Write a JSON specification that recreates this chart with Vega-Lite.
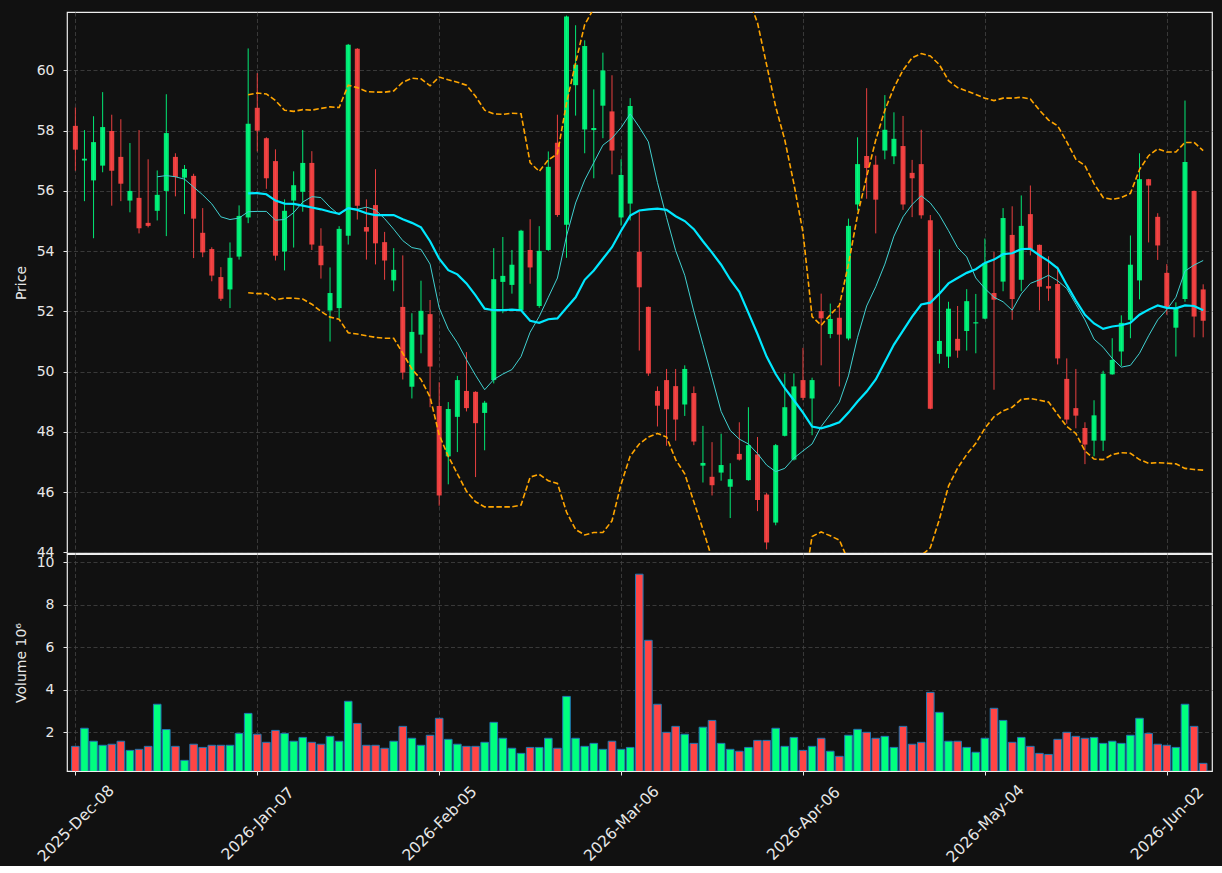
{
"$schema": "https://vega.github.io/schema/vega-lite/v6.json",
"background": "#111111",
"padding": {"left": 13, "top": 11, "right": 10, "bottom": 0},
"spacing": 1,
"bounds": "flush",
"config": {
  "view": {"stroke": "#eeeeee", "strokeWidth": 1.2, "fill": "#111111"},
  "axis": {"labelFont": "DejaVu Sans", "labelFontSize": 14, "labelColor": "#e8e8e8", "titleFont": "DejaVu Sans", "titleFontSize": 14, "titleColor": "#e8e8e8", "titleFontWeight": "normal", "titlePadding": 8, "domain": false, "tickColor": "#e8e8e8", "tickSize": 4, "labelPadding": 9, "gridColor": "#444444", "gridDash": [4, 2.5], "gridWidth": 0.8}
},
"datasets": {"d": [
{"i":0,"o":58.16,"h":58.77,"l":56.67,"c":57.37,"v":1.34},
{"i":1,"o":57.01,"h":58.02,"l":55.66,"c":57.07,"v":2.19},
{"i":2,"o":56.35,"h":58.48,"l":54.43,"c":57.62,"v":1.58},
{"i":3,"o":56.84,"h":59.28,"l":56.62,"c":58.12,"v":1.39},
{"i":4,"o":57.99,"h":58.53,"l":55.51,"c":56.67,"v":1.44},
{"i":5,"o":57.13,"h":58.38,"l":55.66,"c":56.24,"v":1.58},
{"i":6,"o":55.68,"h":57.59,"l":55.29,"c":56.00,"v":1.15},
{"i":7,"o":55.77,"h":58.02,"l":54.59,"c":54.76,"v":1.20},
{"i":8,"o":54.94,"h":57.05,"l":54.79,"c":54.84,"v":1.34},
{"i":9,"o":55.34,"h":56.68,"l":55.02,"c":55.87,"v":3.32,"m10":56.47},
{"i":10,"o":56.00,"h":59.21,"l":54.50,"c":57.92,"v":2.13,"m10":56.51},
{"i":11,"o":57.13,"h":57.25,"l":55.82,"c":56.46,"v":1.34,"m10":56.47},
{"i":12,"o":56.44,"h":56.86,"l":55.23,"c":56.73,"v":0.68,"m10":56.39},
{"i":13,"o":56.50,"h":56.57,"l":53.77,"c":55.08,"v":1.44,"m10":56.13},
{"i":14,"o":54.61,"h":55.43,"l":53.80,"c":53.96,"v":1.29,"m10":55.87},
{"i":15,"o":54.07,"h":54.13,"l":53.00,"c":53.19,"v":1.39,"m10":55.57},
{"i":16,"o":53.14,"h":53.47,"l":52.35,"c":52.42,"v":1.39,"m10":55.14},
{"i":17,"o":52.73,"h":54.29,"l":52.11,"c":53.78,"v":1.39,"m10":55.05},
{"i":18,"o":53.82,"h":55.52,"l":53.72,"c":55.17,"v":1.95,"m10":55.10},
{"i":19,"o":55.12,"h":60.73,"l":54.93,"c":58.23,"v":2.89,"m10":55.31,"m20":55.92,"bu":59.19,"bl":52.62},
{"i":20,"o":58.76,"h":59.91,"l":57.31,"c":58.00,"v":1.91,"m10":55.32,"m20":55.93,"bu":59.25,"bl":52.59},
{"i":21,"o":57.75,"h":57.78,"l":56.07,"c":56.42,"v":1.53,"m10":55.32,"m20":55.89,"bu":59.22,"bl":52.59},
{"i":22,"o":56.99,"h":57.38,"l":53.69,"c":53.85,"v":2.09,"m10":55.03,"m20":55.68,"bu":59.00,"bl":52.39},
{"i":23,"o":53.99,"h":55.72,"l":53.36,"c":55.34,"v":1.95,"m10":55.05,"m20":55.58,"bu":58.68,"bl":52.44},
{"i":24,"o":55.68,"h":56.65,"l":54.12,"c":56.19,"v":1.58,"m10":55.28,"m20":55.57,"bu":58.64,"bl":52.44},
{"i":25,"o":55.97,"h":58.02,"l":55.31,"c":56.93,"v":1.76,"m10":55.63,"m20":55.51,"bu":58.70,"bl":52.41},
{"i":26,"o":56.93,"h":57.32,"l":54.04,"c":54.22,"v":1.53,"m10":55.81,"m20":55.45,"bu":58.68,"bl":52.24},
{"i":27,"o":54.18,"h":54.76,"l":53.09,"c":53.53,"v":1.44,"m10":55.78,"m20":55.39,"bu":58.74,"bl":52.00},
{"i":28,"o":52.03,"h":53.46,"l":51.00,"c":52.61,"v":1.81,"m10":55.46,"m20":55.31,"bu":58.79,"bl":51.81},
{"i":29,"o":52.11,"h":54.83,"l":51.77,"c":54.74,"v":1.58,"m10":55.21,"m20":55.24,"bu":58.77,"bl":51.74},
{"i":30,"o":54.51,"h":60.88,"l":54.22,"c":60.85,"v":3.46,"m10":55.43,"m20":55.43,"bu":59.51,"bl":51.29},
{"i":31,"o":60.72,"h":60.74,"l":55.05,"c":55.51,"v":2.42,"m10":55.39,"m20":55.37,"bu":59.43,"bl":51.25},
{"i":32,"o":54.80,"h":55.72,"l":53.72,"c":54.65,"v":1.39,"m10":55.46,"m20":55.26,"bu":59.30,"bl":51.19},
{"i":33,"o":55.53,"h":56.72,"l":53.56,"c":54.26,"v":1.39,"m10":55.37,"m20":55.20,"bu":59.28,"bl":51.14},
{"i":34,"o":54.30,"h":54.64,"l":53.05,"c":53.69,"v":1.25,"m10":55.08,"m20":55.20,"bu":59.28,"bl":51.11},
{"i":35,"o":53.03,"h":54.10,"l":52.67,"c":53.38,"v":1.58,"m10":54.73,"m20":55.20,"bu":59.32,"bl":51.11},
{"i":36,"o":52.15,"h":53.86,"l":49.74,"c":49.97,"v":2.28,"m10":54.35,"m20":55.06,"bu":59.61,"bl":50.61},
{"i":37,"o":49.50,"h":51.94,"l":49.11,"c":51.32,"v":1.72,"m10":54.12,"m20":54.94,"bu":59.74,"bl":50.09},
{"i":38,"o":51.23,"h":53.02,"l":50.61,"c":52.02,"v":1.39,"m10":54.06,"m20":54.79,"bu":59.72,"bl":49.74},
{"i":39,"o":51.91,"h":52.38,"l":48.82,"c":50.17,"v":1.86,"m10":53.57,"m20":54.33,"bu":59.49,"bl":49.16},
{"i":40,"o":48.86,"h":49.65,"l":45.55,"c":45.89,"v":2.66,"m10":52.12,"m20":53.75,"bu":59.78,"bl":47.90},
{"i":41,"o":47.19,"h":48.99,"l":46.26,"c":48.76,"v":1.67,"m10":51.41,"m20":53.37,"bu":59.69,"bl":47.19},
{"i":42,"o":48.50,"h":49.86,"l":47.33,"c":49.72,"v":1.44,"m10":50.96,"m20":53.23,"bu":59.61,"bl":46.61},
{"i":43,"o":49.36,"h":50.65,"l":48.68,"c":48.79,"v":1.34,"m10":50.40,"m20":52.93,"bu":59.51,"bl":46.03},
{"i":44,"o":49.33,"h":49.35,"l":46.50,"c":48.29,"v":1.34,"m10":49.88,"m20":52.53,"bu":59.14,"bl":45.68},
{"i":45,"o":48.63,"h":49.03,"l":47.39,"c":48.97,"v":1.53,"m10":49.40,"m20":52.09,"bu":58.68,"bl":45.51},
{"i":46,"o":49.72,"h":54.10,"l":49.61,"c":53.07,"v":2.47,"m10":49.74,"m20":52.04,"bu":58.56,"bl":45.51},
{"i":47,"o":52.98,"h":54.47,"l":51.94,"c":53.18,"v":1.72,"m10":49.92,"m20":52.04,"bu":58.54,"bl":45.51},
{"i":48,"o":52.88,"h":54.04,"l":52.59,"c":53.55,"v":1.25,"m10":50.07,"m20":52.06,"bu":58.58,"bl":45.51},
{"i":49,"o":52.03,"h":54.71,"l":52.00,"c":54.68,"v":1.01,"m10":50.50,"m20":52.04,"bu":58.56,"bl":45.57},
{"i":50,"o":54.04,"h":55.06,"l":52.92,"c":53.46,"v":1.29,"m10":51.31,"m20":51.69,"bu":56.94,"bl":46.50},
{"i":51,"o":52.18,"h":54.83,"l":52.12,"c":54.01,"v":1.29,"m10":51.83,"m20":51.62,"bu":56.65,"bl":46.59},
{"i":52,"o":54.04,"h":57.31,"l":54.01,"c":56.80,"v":1.72,"m10":52.47,"m20":51.74,"bu":57.03,"bl":46.38},
{"i":53,"o":57.60,"h":58.53,"l":55.14,"c":55.20,"v":1.25,"m10":53.11,"m20":51.77,"bu":57.23,"bl":46.29},
{"i":54,"o":54.88,"h":61.82,"l":53.78,"c":61.79,"v":3.69,"m10":54.50,"m20":52.12,"bu":58.91,"bl":45.34},
{"i":55,"o":59.51,"h":61.50,"l":58.50,"c":60.19,"v":1.72,"m10":55.60,"m20":52.47,"bu":60.25,"bl":44.76},
{"i":56,"o":58.04,"h":61.00,"l":57.25,"c":60.81,"v":1.34,"m10":56.36,"m20":53.05,"bu":61.52,"bl":44.58},
{"i":57,"o":58.02,"h":59.37,"l":56.42,"c":58.09,"v":1.48,"m10":56.94,"m20":53.36,"bu":62.06,"bl":44.66},
{"i":58,"o":58.83,"h":60.59,"l":57.75,"c":60.00,"v":1.20,"m10":57.52,"m20":53.75,"bu":62.84,"bl":44.66},
{"i":59,"o":58.64,"h":59.84,"l":56.55,"c":57.34,"v":1.58,"m10":57.75,"m20":54.13,"bu":63.21,"bl":45.05},
{"i":60,"o":55.12,"h":57.05,"l":54.85,"c":56.53,"v":1.20,"m10":58.10,"m20":54.68,"bu":63.10,"bl":46.26},
{"i":61,"o":55.58,"h":59.08,"l":55.02,"c":58.82,"v":1.29,"m10":58.56,"m20":55.18,"bu":63.16,"bl":47.20},
{"i":62,"o":53.98,"h":55.31,"l":50.70,"c":52.80,"v":9.44,"m10":58.12,"m20":55.35,"bu":63.10,"bl":47.60},
{"i":63,"o":52.15,"h":52.16,"l":49.86,"c":49.94,"v":6.33,"m10":57.63,"m20":55.39,"bu":62.95,"bl":47.83},
{"i":64,"o":49.36,"h":49.51,"l":48.18,"c":48.87,"v":3.32,"m10":56.28,"m20":55.41,"bu":62.87,"bl":47.95},
{"i":65,"o":49.72,"h":50.09,"l":47.54,"c":48.75,"v":2.00,"m10":55.12,"m20":55.37,"bu":62.91,"bl":47.83},
{"i":66,"o":49.52,"h":50.09,"l":47.71,"c":48.41,"v":2.28,"m10":54.02,"m20":55.16,"bu":63.24,"bl":47.08},
{"i":67,"o":48.91,"h":50.21,"l":48.53,"c":50.09,"v":1.91,"m10":53.20,"m20":55.00,"bu":63.39,"bl":46.61},
{"i":68,"o":49.29,"h":49.51,"l":47.56,"c":47.68,"v":1.48,"m10":52.00,"m20":54.73,"bu":63.78,"bl":45.68},
{"i":69,"o":46.88,"h":48.20,"l":46.32,"c":46.97,"v":2.24,"m10":50.90,"m20":54.33,"bu":63.90,"bl":44.76},
{"i":70,"o":46.51,"h":47.66,"l":45.89,"c":46.23,"v":2.56,"m10":49.80,"m20":53.95,"bu":64.04,"bl":43.80},
{"i":71,"o":46.65,"h":47.94,"l":46.38,"c":46.90,"v":1.48,"m10":48.68,"m20":53.55,"bu":64.12,"bl":42.90},
{"i":72,"o":46.18,"h":46.96,"l":45.14,"c":46.43,"v":1.20,"m10":48.05,"m20":53.06,"bu":64.10,"bl":42.00},
{"i":73,"o":47.27,"h":48.32,"l":47.05,"c":47.08,"v":1.11,"m10":47.76,"m20":52.65,"bu":63.88,"bl":41.40},
{"i":74,"o":46.40,"h":48.82,"l":46.38,"c":47.56,"v":1.29,"m10":47.60,"m20":51.95,"bu":62.40,"bl":41.50},
{"i":75,"o":47.25,"h":47.83,"l":45.37,"c":45.74,"v":1.62,"m10":47.28,"m20":51.25,"bu":61.58,"bl":40.92},
{"i":76,"o":45.92,"h":45.97,"l":44.10,"c":44.33,"v":1.62,"m10":46.90,"m20":50.50,"bu":60.19,"bl":40.81},
{"i":77,"o":44.99,"h":47.60,"l":44.90,"c":47.56,"v":2.19,"m10":46.68,"m20":49.92,"bu":58.79,"bl":41.05},
{"i":78,"o":47.87,"h":49.94,"l":47.85,"c":48.82,"v":1.34,"m10":46.79,"m20":49.45,"bu":57.69,"bl":41.21},
{"i":79,"o":47.08,"h":49.94,"l":47.05,"c":49.51,"v":1.76,"m10":47.13,"m20":49.05,"bu":56.24,"bl":41.86},
{"i":80,"o":49.72,"h":50.79,"l":49.05,"c":49.13,"v":1.15,"m10":47.37,"m20":48.64,"bu":54.62,"bl":42.66},
{"i":81,"o":49.11,"h":49.80,"l":47.89,"c":49.72,"v":1.34,"m10":47.60,"m20":48.18,"bu":51.83,"bl":44.53},
{"i":82,"o":52.01,"h":52.59,"l":50.21,"c":51.77,"v":1.72,"m10":48.18,"m20":48.12,"bu":51.54,"bl":44.68},
{"i":83,"o":51.25,"h":52.26,"l":51.11,"c":51.75,"v":1.11,"m10":48.58,"m20":48.21,"bu":51.89,"bl":44.55},
{"i":84,"o":51.79,"h":52.18,"l":49.51,"c":51.23,"v":0.87,"m10":48.99,"m20":48.32,"bu":52.20,"bl":44.41},
{"i":85,"o":51.10,"h":55.08,"l":51.04,"c":54.84,"v":1.86,"m10":49.86,"m20":48.64,"bu":53.57,"bl":43.71},
{"i":86,"o":55.55,"h":57.78,"l":55.35,"c":56.89,"v":2.14,"m10":51.14,"m20":49.01,"bu":55.20,"bl":42.82},
{"i":87,"o":57.16,"h":59.41,"l":55.74,"c":56.76,"v":2.00,"m10":52.18,"m20":49.34,"bu":56.47,"bl":42.21},
{"i":88,"o":56.87,"h":57.17,"l":54.59,"c":55.71,"v":1.72,"m10":52.82,"m20":49.74,"bu":57.69,"bl":41.79},
{"i":89,"o":57.34,"h":59.18,"l":57.05,"c":58.03,"v":1.81,"m10":53.57,"m20":50.32,"bu":58.68,"bl":41.96},
{"i":90,"o":57.15,"h":58.61,"l":56.89,"c":57.73,"v":1.29,"m10":54.50,"m20":50.90,"bu":59.43,"bl":42.37},
{"i":91,"o":57.49,"h":58.49,"l":55.37,"c":55.55,"v":2.28,"m10":55.14,"m20":51.36,"bu":60.01,"bl":42.71},
{"i":92,"o":56.60,"h":57.03,"l":55.13,"c":56.42,"v":1.44,"m10":55.55,"m20":51.83,"bu":60.42,"bl":43.24},
{"i":93,"o":56.89,"h":58.03,"l":55.08,"c":55.19,"v":1.53,"m10":55.84,"m20":52.23,"bu":60.56,"bl":43.90},
{"i":94,"o":55.03,"h":55.20,"l":48.75,"c":48.77,"v":3.88,"m10":55.60,"m20":52.29,"bu":60.48,"bl":44.15},
{"i":95,"o":50.59,"h":54.06,"l":50.27,"c":51.02,"v":2.94,"m10":55.20,"m20":52.59,"bu":60.19,"bl":45.10},
{"i":96,"o":50.50,"h":52.32,"l":50.12,"c":52.09,"v":1.58,"m10":54.68,"m20":52.93,"bu":59.66,"bl":46.20},
{"i":97,"o":51.09,"h":52.18,"l":50.46,"c":50.70,"v":1.58,"m10":54.12,"m20":53.11,"bu":59.43,"bl":46.80},
{"i":98,"o":51.35,"h":52.74,"l":50.70,"c":52.34,"v":1.29,"m10":53.81,"m20":53.28,"bu":59.32,"bl":47.25},
{"i":99,"o":51.60,"h":52.58,"l":50.61,"c":51.64,"v":1.06,"m10":53.11,"m20":53.40,"bu":59.20,"bl":47.62},
{"i":100,"o":51.76,"h":54.42,"l":51.74,"c":53.61,"v":1.72,"m10":52.76,"m20":53.61,"bu":59.08,"bl":48.12},
{"i":101,"o":52.61,"h":53.98,"l":49.40,"c":52.39,"v":3.13,"m10":52.47,"m20":53.72,"bu":59.00,"bl":48.50},
{"i":102,"o":52.99,"h":55.43,"l":52.67,"c":55.10,"v":2.56,"m10":52.32,"m20":53.90,"bu":59.08,"bl":48.70},
{"i":103,"o":54.54,"h":55.49,"l":51.72,"c":52.41,"v":1.53,"m10":52.04,"m20":53.93,"bu":59.08,"bl":48.82},
{"i":104,"o":53.05,"h":55.85,"l":52.67,"c":54.84,"v":1.76,"m10":52.58,"m20":54.07,"bu":59.11,"bl":49.08},
{"i":105,"o":55.23,"h":56.18,"l":53.86,"c":54.06,"v":1.34,"m10":52.93,"m20":54.08,"bu":59.05,"bl":49.11},
{"i":106,"o":54.21,"h":54.22,"l":52.03,"c":52.82,"v":1.01,"m10":53.05,"m20":53.86,"bu":58.68,"bl":49.05},
{"i":107,"o":52.84,"h":53.83,"l":52.35,"c":52.76,"v":0.96,"m10":53.20,"m20":53.67,"bu":58.35,"bl":48.99},
{"i":108,"o":52.91,"h":53.49,"l":50.24,"c":50.44,"v":1.67,"m10":53.02,"m20":53.43,"bu":58.16,"bl":48.58},
{"i":109,"o":49.76,"h":50.44,"l":48.27,"c":48.41,"v":2.00,"m10":52.76,"m20":52.88,"bu":57.63,"bl":48.18},
{"i":110,"o":48.79,"h":50.09,"l":48.12,"c":48.54,"v":1.81,"m10":52.24,"m20":52.36,"bu":57.05,"bl":47.95},
{"i":111,"o":48.13,"h":48.32,"l":46.93,"c":47.58,"v":1.72,"m10":51.72,"m20":51.89,"bu":56.84,"bl":47.37},
{"i":112,"o":47.71,"h":49.05,"l":47.19,"c":48.55,"v":1.76,"m10":51.08,"m20":51.60,"bu":56.24,"bl":47.10},
{"i":113,"o":47.71,"h":50.03,"l":47.37,"c":49.93,"v":1.48,"m10":50.81,"m20":51.42,"bu":55.78,"bl":47.08},
{"i":114,"o":49.91,"h":51.11,"l":49.90,"c":50.39,"v":1.58,"m10":50.44,"m20":51.50,"bu":55.72,"bl":47.25},
{"i":115,"o":50.67,"h":51.87,"l":50.19,"c":51.62,"v":1.48,"m10":50.15,"m20":51.54,"bu":55.78,"bl":47.31},
{"i":116,"o":51.72,"h":54.52,"l":51.11,"c":53.55,"v":1.86,"m10":50.21,"m20":51.62,"bu":55.92,"bl":47.29},
{"i":117,"o":53.03,"h":57.25,"l":52.40,"c":56.39,"v":2.66,"m10":50.61,"m20":51.89,"bu":56.71,"bl":47.08},
{"i":118,"o":56.39,"h":56.40,"l":54.29,"c":56.18,"v":1.95,"m10":51.19,"m20":52.06,"bu":57.17,"bl":46.96},
{"i":119,"o":55.14,"h":55.26,"l":53.71,"c":54.19,"v":1.44,"m10":51.72,"m20":52.20,"bu":57.40,"bl":46.98},
{"i":120,"o":53.28,"h":53.57,"l":51.89,"c":52.12,"v":1.39,"m10":52.06,"m20":52.12,"bu":57.29,"bl":46.96},
{"i":121,"o":51.46,"h":52.30,"l":50.50,"c":52.12,"v":1.29,"m10":52.47,"m20":52.10,"bu":57.29,"bl":46.94},
{"i":122,"o":52.41,"h":59.00,"l":52.32,"c":56.96,"v":3.32,"m10":53.34,"m20":52.20,"bu":57.61,"bl":46.79},
{"i":123,"o":56.00,"h":56.01,"l":51.14,"c":51.83,"v":2.28,"m10":53.54,"m20":52.18,"bu":57.61,"bl":46.75},
{"i":124,"o":52.73,"h":52.90,"l":51.14,"c":51.69,"v":0.54,"m10":53.69,"m20":52.04,"bu":57.34,"bl":46.73}
]},
"vconcat": [
 {
  "width": 1145, "height": 541,
  "data": {"name": "d"},
  "encoding": {
    "x": {"field": "i", "type": "quantitative", "scale": {"domain": [-0.37, 124.42], "nice": false, "zero": false},
          "axis": {"values": [0,20,40,60,80,100,120], "labels": false, "ticks": false, "grid": true, "title": null}}
  },
  "layer": [
    {"mark": {"type": "rule", "strokeWidth": 1, "opacity": 0.9, "clip": true},
     "encoding": {
       "y": {"field": "l", "type": "quantitative", "scale": {"domain": [43.98, 61.94], "nice": false, "zero": false},
             "axis": {"title": "Price", "values": [44,46,48,50,52,54,56,58,60], "grid": true}},
       "y2": {"field": "h"},
       "color": {"condition": {"test": "datum.c >= datum.o", "value": "#00ff7f"}, "value": "#ff4545"}
     }},
    {"mark": {"type": "bar", "size": 5, "opacity": 0.9, "clip": true},
     "encoding": {
       "y": {"field": "o", "type": "quantitative"},
       "y2": {"field": "c"},
       "color": {"condition": {"test": "datum.c >= datum.o", "value": "#00ff7f"}, "value": "#ff4545"}
     }},
    {"mark": {"type": "line", "color": "#40d0d0", "strokeWidth": 1, "clip": true},
     "encoding": {"y": {"field": "m10", "type": "quantitative"}}},
    {"mark": {"type": "line", "color": "#00e8ff", "strokeWidth": 2.2, "clip": true},
     "encoding": {"y": {"field": "m20", "type": "quantitative"}}},
    {"mark": {"type": "line", "color": "#ffa500", "strokeWidth": 1.6, "strokeDash": [5.5, 2.5], "clip": true},
     "encoding": {"y": {"field": "bu", "type": "quantitative"}}},
    {"mark": {"type": "line", "color": "#ffa500", "strokeWidth": 1.6, "strokeDash": [5.5, 2.5], "clip": true},
     "encoding": {"y": {"field": "bl", "type": "quantitative"}}}
  ]
 },
 {
  "width": 1145, "height": 217,
  "data": {"name": "d"},
  "mark": {"type": "bar", "size": 7.6, "stroke": "#1f77b4", "strokeWidth": 1, "clip": true},
  "encoding": {
    "x": {"field": "i", "type": "quantitative", "scale": {"domain": [-0.37, 124.42], "nice": false, "zero": false},
          "axis": {"values": [0,20,40,60,80,100,120], "grid": true, "title": null,
                   "labelExpr": "['2025-Dec-08','2026-Jan-07','2026-Feb-05','2026-Mar-06','2026-Apr-06','2026-May-04','2026-Jun-02'][round(datum.value/20)]",
                   "labelAngle": -45, "labelAlign": "center", "labelBaseline": "middle", "labelPadding": 48,
                   "labelFontSize": 15.5, "labelBound": false, "labelOverlap": false, "labelFlush": false}},
    "y": {"field": "v", "type": "quantitative", "scale": {"domain": [0.18, 10.39], "nice": false, "zero": false},
          "axis": {"title": "Volume  10⁶", "values": [2,4,6,8,10], "grid": true}},
    "y2": {"datum": 0},
    "color": {"condition": {"test": "datum.c >= datum.o", "value": "#00ff7f"}, "value": "#ff4545"}
  }
 }
]
}
